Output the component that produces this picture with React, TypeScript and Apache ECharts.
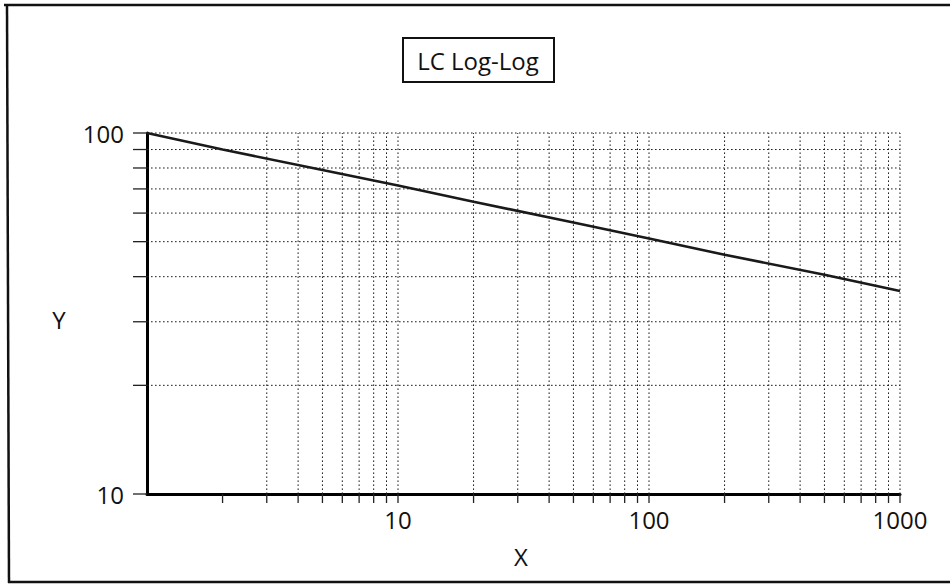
import React, { useEffect, useRef } from "react";
import * as echarts from "echarts";

const FONT = "'Open Sans', 'Noto Sans', sans-serif";

// series
const xValues = [1, 2, 5, 10, 20, 50, 100, 200, 500, 1000];
const yValues = [100, 90, 79, 71.5, 64.5, 56.5, 51, 46, 40.5, 36.5];

// grid / tick positions
const xTickValues = [2, 3, 4, 5, 6, 7, 8, 9, 10, 20, 30, 40, 50, 60, 70, 80, 90, 100, 200, 300, 400, 500, 600, 700, 800, 900, 1000];
const xGridValues = [3, 4, 5, 6, 7, 8, 9, 10, 20, 30, 40, 50, 60, 70, 80, 90, 100, 200, 300, 400, 500, 600, 700, 800, 900, 1000];
const yTickValues = [10, 20, 30, 40, 50, 60, 70, 80, 90, 100];
const yGridValues = [20, 30, 40, 50, 60, 70, 80, 90, 100];

const X_MIN = 1, X_MAX = 1000, Y_MIN = 10, Y_MAX = 100;

const titleText = "LC Log-Log";
const xName = "X";
const yName = "Y";

export default function App() {
  const ref = useRef<HTMLDivElement>(null);
  useEffect(() => {
    if (!ref.current) return;
    const chart = echarts.init(ref.current, null, { renderer: "svg" });
    const dotted = { stroke: "#1e1e1e", lineWidth: 1, lineDash: [1.6, 2.4] };
    chart.setOption({
      animation: false,
      backgroundColor: "#ffffff",
      grid: { left: 147, right: 50, top: 133, bottom: 92 },
      xAxis: {
        type: "log",
        logBase: 10,
        min: X_MIN,
        max: X_MAX,
        axisLine: { show: true, lineStyle: { color: "#000", width: 3 } },
        axisTick: { show: false },
        splitLine: { show: false },
        minorTick: { show: false },
        axisLabel: {
          formatter: (v: number) => (v === 1 ? "" : String(v)),
          fontSize: 24,
          color: "#111",
          margin: 13,
          fontFamily: FONT,
        },
      },
      yAxis: {
        type: "log",
        logBase: 10,
        min: Y_MIN,
        max: Y_MAX,
        axisLine: { show: true, lineStyle: { color: "#000", width: 3 } },
        axisTick: { show: false },
        splitLine: { show: false },
        axisLabel: {
          fontSize: 24,
          color: "#111",
          margin: 23,
          fontFamily: FONT,
        },
      },
      graphic: [
        { type: "line", shape: { x1: 4, y1: 5, x2: 950, y2: 5 }, style: { stroke: "#111", lineWidth: 2.5 } },
        { type: "line", shape: { x1: 7, y1: 5, x2: 9, y2: 583 }, style: { stroke: "#111", lineWidth: 2.5 } },
        { type: "line", shape: { x1: 8, y1: 582, x2: 950, y2: 582 }, style: { stroke: "#111", lineWidth: 2.5 } },
        { type: "rect", shape: { x: 403, y: 38, width: 151, height: 44 }, style: { fill: "#fff", stroke: "#111", lineWidth: 2 } },
        {
          type: "text",
          x: 478,
          y: 60,
          style: { text: titleText, fontSize: 24, fontFamily: FONT, fill: "#111", align: "center", verticalAlign: "middle" },
        },
        {
          type: "text",
          x: 521,
          y: 556,
          style: { text: xName, fontSize: 24, fontFamily: FONT, fill: "#111", align: "center", verticalAlign: "middle" },
        },
        {
          type: "text",
          x: 59,
          y: 319,
          style: { text: yName, fontSize: 24, fontFamily: FONT, fill: "#111", align: "center", verticalAlign: "middle" },
        },
      ],
      series: [
        {
          type: "custom",
          coordinateSystem: "cartesian2d",
          silent: true,
          z: 1,
          data: xGridValues.map((v) => [v, Y_MIN]),
          renderItem: (_p: any, api: any) => {
            const v = api.value(0);
            const a = api.coord([v, Y_MIN]);
            const b = api.coord([v, Y_MAX]);
            return { type: "line", shape: { x1: a[0], y1: a[1], x2: b[0], y2: b[1] }, style: dotted };
          },
        },
        {
          type: "custom",
          coordinateSystem: "cartesian2d",
          silent: true,
          z: 1,
          data: yGridValues.map((v) => [X_MIN, v]),
          renderItem: (_p: any, api: any) => {
            const v = api.value(1);
            const a = api.coord([X_MIN, v]);
            const b = api.coord([X_MAX, v]);
            return { type: "line", shape: { x1: a[0], y1: a[1], x2: b[0], y2: b[1] }, style: dotted };
          },
        },
        {
          type: "custom",
          coordinateSystem: "cartesian2d",
          silent: true,
          z: 3,
          data: xTickValues.map((v) => [v, Y_MIN]),
          renderItem: (_p: any, api: any) => {
            const v = api.value(0);
            const a = api.coord([v, Y_MIN]);
            return { type: "line", shape: { x1: a[0], y1: a[1], x2: a[0], y2: a[1] + 9 }, style: { stroke: "#222", lineWidth: 1.3 } };
          },
        },
        {
          type: "custom",
          coordinateSystem: "cartesian2d",
          silent: true,
          z: 3,
          data: yTickValues.map((v) => [X_MIN, v]),
          renderItem: (_p: any, api: any) => {
            const v = api.value(1);
            const a = api.coord([X_MIN, v]);
            return { type: "line", shape: { x1: a[0] - 14, y1: a[1], x2: a[0], y2: a[1] }, style: { stroke: "#222", lineWidth: 1.3 } };
          },
        },
        {
          type: "line",
          data: xValues.map((x, i) => [x, yValues[i]]),
          showSymbol: false,
          symbol: "none",
          z: 5,
          lineStyle: { color: "#1a1a1a", width: 2.6 },
        },
      ],
    });
    return () => chart.dispose();
  }, []);
  return <div ref={ref} style={{ position: "fixed", left: 0, top: 0, width: 950, height: 586 }} />;
}
